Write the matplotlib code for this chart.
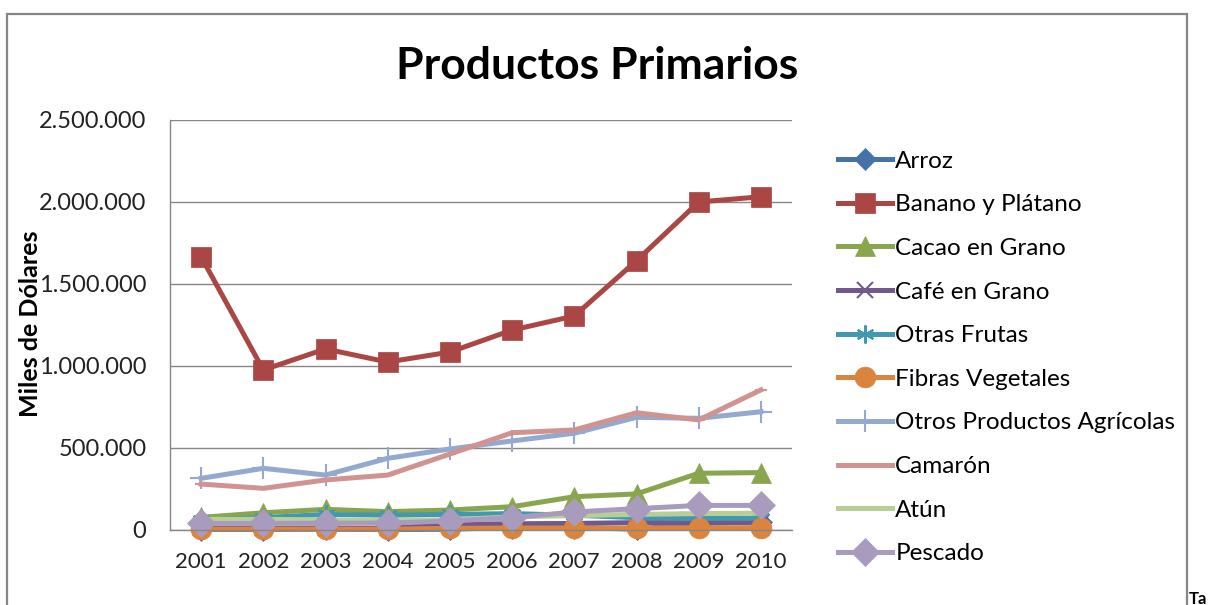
import matplotlib.pyplot as plt
import matplotlib.patches as patches
from matplotlib.ticker import FuncFormatter, MultipleLocator

# Data (thousands of USD)
years = ['2001', '2002', '2003', '2004', '2005', '2006', '2007', '2008', '2009', '2010']

arroz = [3000, 3000, 5000, 2000, 5000, 15000, 15000, 5000, 40000, 50000]
banano = [1666000, 976000, 1104000, 1024000, 1085000, 1219000, 1305000, 1642000, 2000000, 2032000]
cacao = [77000, 105000, 126000, 112000, 122000, 142000, 203000, 220000, 346000, 350000]
cafe = [10000, 10000, 12000, 10000, 35000, 38000, 40000, 45000, 45000, 45000]
otras_frutas = [60000, 75000, 95000, 90000, 95000, 100000, 90000, 75000, 70000, 72000]
fibras = [5000, 5000, 5000, 5000, 10000, 12000, 12000, 12000, 14000, 14000]
otros_agricolas = [315000, 376000, 335000, 437000, 494000, 543000, 590000, 687000, 681000, 721000]
camaron = [280000, 254000, 305000, 335000, 463000, 593000, 610000, 715000, 671000, 854000]
atun = [65000, 65000, 62000, 58000, 62000, 80000, 88000, 95000, 100000, 102000]
pescado = [40000, 40000, 42000, 42000, 55000, 75000, 110000, 130000, 150000, 150000]

series = [
    ('Arroz', arroz, '#4572A7', 'D', 11),
    ('Banano y Plátano', banano, '#AA4643', 's', 14),
    ('Cacao en Grano', cacao, '#89A54E', '^', 15),
    ('Café en Grano', cafe, '#71588F', 'x', 11),
    ('Otras Frutas', otras_frutas, '#4198AF', (6, 2, 0), 13),
    ('Fibras Vegetales', fibras, '#DB843D', 'o', 15),
    ('Otros Productos Agrícolas', otros_agricolas, '#93A9CF', '+', 16),
    ('Camarón', camaron, '#D19392', '_', 8),
    ('Atún', atun, '#B9CD96', '_', 8),
    ('Pescado', pescado, '#A99BBD', 'D', 14),
]

plt.rcParams['font.family'] = ['Lato', 'DejaVu Sans']

W, H = 1209, 605
fig = plt.figure(figsize=(W / 100, H / 100), dpi=100)

# outer chart border (runs off the bottom of the image)
fig.patches.append(patches.Rectangle((7 / W, -0.2), 1180 / W, 1.2 - 14 / H,
                                     transform=fig.transFigure, fill=False,
                                     edgecolor='#868686', linewidth=1.6))

ax = fig.add_axes([170 / W, 1 - 530 / H, 622 / W, 410 / H])
x = list(range(len(years)))
for name, vals, color, marker, ms in series:
    mew = 1.5 if marker in ('x', '+', '_') or isinstance(marker, tuple) else 0.5
    ax.plot(x, vals, color=color, linewidth=3.6, marker=marker, markersize=ms,
            markeredgewidth=mew, markeredgecolor=color, label=name, clip_on=False)

ax.set_xlim(-0.5, 9.5)
ax.set_ylim(0, 2500000)
ax.set_xticks(x)
ax.set_xticklabels(years)
ax.yaxis.set_major_locator(MultipleLocator(500000))
ax.yaxis.set_major_formatter(FuncFormatter(lambda v, p: f"{int(v):,}".replace(',', '.')))
ax.tick_params(axis='both', length=0, colors='#222222')
ax.tick_params(axis='y', pad=17, labelsize=17)
ax.tick_params(axis='x', pad=16, labelsize=16)
ax.grid(axis='y', color='#868686', linewidth=1)
ax.set_axisbelow(True)
for s in ('top', 'right'):
    ax.spines[s].set_visible(False)
for s in ('left', 'bottom'):
    ax.spines[s].set_color('#868686')
    ax.spines[s].set_linewidth(1)

fig.text(597 / W, 1 - 66 / H, 'Productos Primarios', fontsize=32, fontweight='bold',
         ha='center', va='center')
fig.text(30 / W, 1 - 324 / H, 'Miles de Dólares', fontsize=18, fontweight='bold',
         rotation=90, ha='center', va='center')

fig.legend(loc='upper left', bbox_to_anchor=(828 / W, 1 - 141 / H), frameon=False,
           fontsize=17.5, handlelength=2.25, handletextpad=0.12, labelspacing=0.93,
           borderaxespad=0)

fig.text(1189 / W, 1 - 591 / H, 'Ta', fontsize=12, fontweight='bold', ha='left', va='top')

fig.savefig('out.png', dpi=100)
